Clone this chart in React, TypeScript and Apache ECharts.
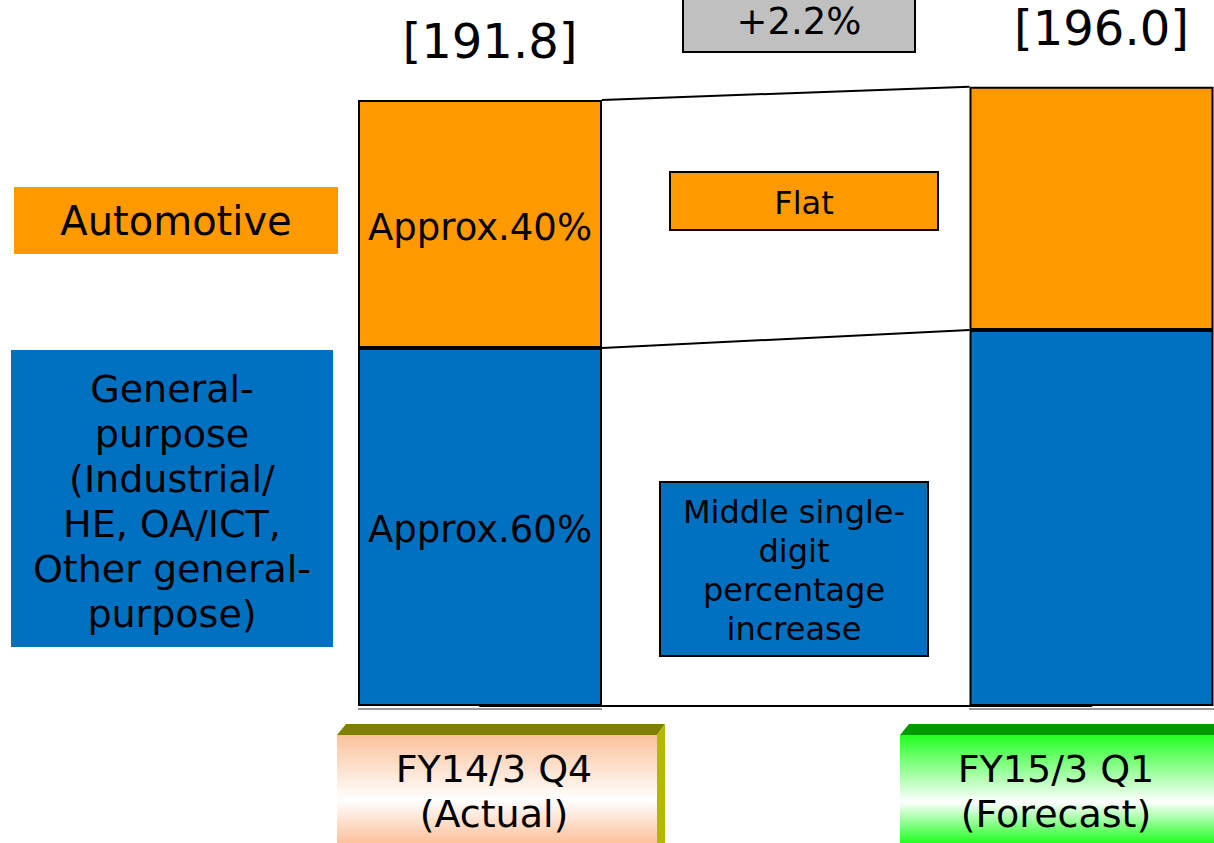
import React, { useEffect, useRef } from "react";
import * as echarts from "echarts";

const categories = ["FY14/3 Q4", "FY15/3 Q1"];
const categorySubs = ["(Actual)", "(Forecast)"];
const generalValues = [113.3, 119.0];
const automotiveValues = [78.5, 77.0];
const totals = [191.8, 196.0];
const shareAuto = ["Approx.40%", ""];
const shareGeneral = ["Approx.60%", ""];
const changeText = "+2.2%";
const autoChange = "Flat";
const generalChange = "Middle single-\ndigit\npercentage\nincrease";
const legendAuto = "Automotive";
const legendGeneral = "General-\npurpose\n(Industrial/\nHE, OA/ICT,\nOther general-\npurpose)";

const ORANGE = "#FF9900";
const BLUE = "#0070C0";
const FONT = "DejaVu Sans";
const BAR_W = 244;

export default function App() {
  const ref = useRef<HTMLDivElement>(null);
  useEffect(() => {
    if (!ref.current) return;
    const chart = echarts.init(ref.current, undefined, { renderer: "svg" });
    const txt = (text: string, x: number, y: number, size: number, lh?: number) => ({
      type: "text",
      z: 10,
      style: {
        text,
        x,
        y,
        fill: "#000",
        font: `${size}px "${FONT}"`,
        textAlign: "center",
        textVerticalAlign: "middle",
        lineHeight: lh || size,
      },
    });
    const peach = {
      type: "linear", x: 0, y: 0, x2: 0, y2: 1,
      colorStops: [
        { offset: 0, color: "#FBC29C" },
        { offset: 0.6, color: "#FFFFFF" },
        { offset: 1, color: "#FBC29C" },
      ],
    };
    const green = {
      type: "linear", x: 0, y: 0, x2: 0, y2: 1,
      colorStops: [
        { offset: 0, color: "#22FF22" },
        { offset: 0.62, color: "#FFFFFF" },
        { offset: 1, color: "#22FF22" },
      ],
    };
    const option: any = {
      animation: false,
      grid: { left: 480, right: 122.5, top: 74, bottom: 137 },
      xAxis: {
        type: "category",
        data: categories,
        boundaryGap: false,
        axisLine: { show: true, lineStyle: { color: "#000", width: 2 } },
        axisTick: { show: false },
        axisLabel: { show: false },
      },
      yAxis: { type: "value", min: 0, max: 200, show: false, splitLine: { show: false } },
      series: [
        {
          name: "General-purpose",
          type: "bar",
          stack: "s",
          clip: false,
          barWidth: BAR_W,
          itemStyle: { color: BLUE, borderColor: "#000", borderWidth: 2 },
          label: {
            show: true,
            position: "inside",
            offset: [0, 3],
            formatter: (p: any) => shareGeneral[p.dataIndex],
            color: "#000",
            fontFamily: FONT,
            fontSize: 37,
          },
          data: generalValues,
        },
        {
          name: "Automotive",
          type: "bar",
          stack: "s",
          clip: false,
          barWidth: BAR_W,
          itemStyle: { color: ORANGE, borderColor: "#000", borderWidth: 2 },
          label: {
            show: true,
            position: "inside",
            offset: [0, 4],
            formatter: (p: any) => shareAuto[p.dataIndex],
            color: "#000",
            fontFamily: FONT,
            fontSize: 37,
          },
          data: automotiveValues,
        },
        {
          name: "Total",
          type: "bar",
          stack: "s",
          clip: false,
          barWidth: BAR_W,
          itemStyle: { color: "rgba(0,0,0,0)", borderWidth: 0 },
          label: {
            show: true,
            position: "top",
            distance: 35,
            offset: [10, 0],
            formatter: (p: any) => `[${totals[p.dataIndex].toFixed(1)}]`,
            color: "#000",
            fontFamily: FONT,
            fontSize: 48,
          },
          data: totals.map(() => 0),
        },
        {
          name: "connectors",
          type: "custom",
          clip: false,
          silent: true,
          encode: { x: 0, y: [1, 2] },
          data: [
            [0, totals[0], totals[1]],
            [0, generalValues[0], generalValues[1]],
          ],
          renderItem: (params: any, api: any) => {
            const a = api.coord([0, api.value(1)]);
            const b = api.coord([1, api.value(2)]);
            return {
              type: "line",
              shape: { x1: a[0] + BAR_W / 2, y1: a[1], x2: b[0] - BAR_W / 2, y2: b[1] },
              style: { stroke: "#000", lineWidth: 2 },
            };
          },
        },
      ],
      graphic: [
        // legend boxes
        { type: "rect", shape: { x: 14, y: 187, width: 324, height: 67 }, style: { fill: ORANGE } },
        txt(legendAuto, 176, 221, 40),
        { type: "rect", shape: { x: 11, y: 350, width: 322, height: 297 }, style: { fill: BLUE } },
        txt(legendGeneral, 172, 501, 38, 45),
        // change boxes
        { type: "rect", shape: { x: 670, y: 172, width: 268, height: 58 }, style: { fill: ORANGE, stroke: "#000", lineWidth: 2 } },
        txt(autoChange, 804, 203, 32),
        { type: "rect", shape: { x: 660, y: 482, width: 268, height: 174 }, style: { fill: BLUE, stroke: "#000", lineWidth: 2 } },
        txt(generalChange, 794, 570, 32, 39),
        { type: "rect", shape: { x: 683, y: -10, width: 232, height: 62 }, style: { fill: "#C0C0C0", stroke: "#000", lineWidth: 2 } },
        txt(changeText, 799, 21, 37),
        // category boxes
        { type: "polygon", shape: { points: [[337, 735], [346, 724], [665, 724], [657, 735]] }, style: { fill: "#808000" } },
        { type: "polygon", shape: { points: [[657, 735], [665, 724], [665, 843], [657, 843]] }, style: { fill: "#B5B800" } },
        { type: "rect", shape: { x: 337, y: 735, width: 320, height: 108 }, style: { fill: peach } },
        txt(`${categories[0]}\n${categorySubs[0]}`, 494, 791, 38, 45),
        { type: "polygon", shape: { points: [[900, 735], [909, 724], [1214, 724], [1214, 735]] }, style: { fill: "#009900" } },
        { type: "rect", shape: { x: 900, y: 735, width: 314, height: 108 }, style: { fill: green } },
        txt(`${categories[1]}\n${categorySubs[1]}`, 1056, 791, 38, 45),
        // double line under bars
        { type: "line", shape: { x1: 358, y1: 709, x2: 602, y2: 709 }, style: { stroke: "#333", lineWidth: 1 } },
        { type: "line", shape: { x1: 969, y1: 709, x2: 1214, y2: 709 }, style: { stroke: "#333", lineWidth: 1 } },
      ],
    };
    chart.setOption(option);
    return () => chart.dispose();
  }, []);
  return (
    <div
      ref={ref}
      style={{ position: "fixed", left: 0, top: 0, width: 1214, height: 843, background: "#fff" }}
    />
  );
}
